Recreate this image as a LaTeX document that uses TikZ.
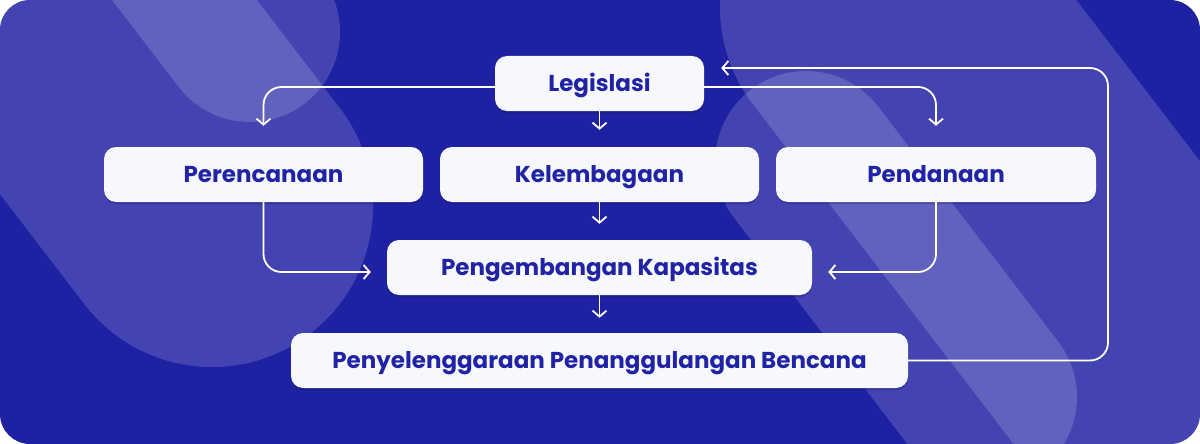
\documentclass[tikz,border=0pt]{standalone}
\usepackage{fontspec}
\setmainfont{Poppins}
\usetikzlibrary{arrows.meta,shadows}
\definecolor{bgdark}{RGB}{31,33,163}
\definecolor{boxfill}{RGB}{247,248,252}
\definecolor{txt}{RGB}{33,35,165}
\definecolor{shade}{RGB}{20,20,90}
\begin{document}
\begin{tikzpicture}[x=1pt,y=-1pt,
  box/.style={fill=boxfill, rounded corners=12pt, font=\bfseries\fontsize{23}{27}\selectfont, text=txt, inner sep=0pt,
    text height=16.5pt, text depth=0pt,
    minimum height=55pt, drop shadow={shadow xshift=0pt,shadow yshift=-2pt,opacity=0.3,fill=shade}},
  conn/.style={draw=white, line width=1.8pt, rounded corners=18pt, -{Straight Barb[length=6pt,width=14pt,line width=1.8pt]}},
  band/.style={line cap=round, draw=white, opacity=0.16},
]
\useasboundingbox (0,0) rectangle (1200,444);
\fill[white] (0,0) rectangle (1200,444);
\begin{scope}
  \path[clip, rounded corners=30pt] (0,0) rectangle (1200,444);
  \fill[bgdark] (0,0) rectangle (1200,444);
  \draw[band, line width=322pt] (212,206) -- ++(-365,-476);
  \draw[band, line width=180pt] (250,32) -- ++(-243,-317);
  \draw[band, line width=320pt] (880,7) -- ++(548,714);
  \draw[band, line width=182pt] (806,162) -- (986,397);
\end{scope}

\node[box, minimum width=209pt] (leg) at (599.5,83.5) {Legislasi};
\node[box, minimum width=319pt] (per) at (263.5,174.5) {Perencanaan};
\node[box, minimum width=319pt] (kel) at (599.5,174.5) {Kelembagaan};
\node[box, minimum width=320pt] (pend) at (936,174.5) {Pendanaan};
\node[box, minimum width=425pt] (peng) at (599.5,267.5) {Pengembangan Kapasitas};
\node[box, minimum width=617pt] (peny) at (599.5,360.5) {Penyelenggaraan Penanggulangan Bencana};

\coordinate (fb) at (1108,68);
\draw[conn] ([yshift=-3.5pt]leg.west) -| ([yshift=21pt]per.north);
\draw[conn] (leg.south) -- ([yshift=17pt]kel.north);
\draw[conn] ([yshift=-3.5pt]leg.east) -| ([yshift=21pt]pend.north);
\draw[conn] (kel.south) -- ([yshift=16pt]peng.north);
\draw[conn] (peng.south) -- ([yshift=15pt]peny.north);
\draw[conn] (per.south) |- ([shift={(-16pt,-4.5pt)}]peng.west);
\draw[conn] (pend.south) |- ([shift={(16pt,-4.5pt)}]peng.east);
\draw[conn] (peny.east) -| (fb) -- ([shift={(17pt,15.5pt)}]leg.east);
\end{tikzpicture}
\end{document}
